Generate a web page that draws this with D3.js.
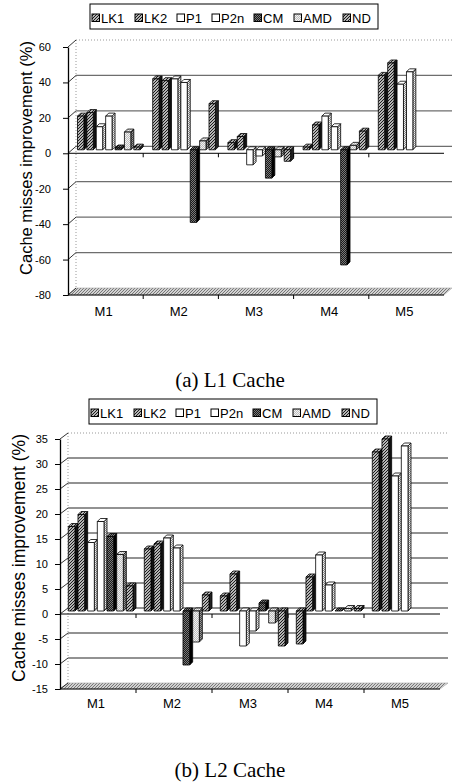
<!DOCTYPE html>
<html>
<head>
<meta charset="utf-8">
<style>
body { margin: 0; background: #fff; }
svg { display: block; font-family: "Liberation Sans", Arial, sans-serif; }
</style>
</head>
<body>
<svg id="chart" width="454" height="782"></svg>
<script src="https://cdn.jsdelivr.net/npm/d3@7/dist/d3.min.js"></script>
<script>
var categories = ["M1", "M2", "M3", "M4", "M5"];
var seriesNames = ["LK1", "LK2", "P1", "P2n", "CM", "AMD", "ND"];

// (a) L1 cache, one array per series, M1..M5 (null = no bar)
var l1LK1 = [19, 40, 4, 1.5, 42];
var l1LK2 = [21, 39, 7.5, 14, 49];
var l1P1 = [13, 40, -8.5, 19, 37];
var l1P2n = [19, 38, -3.5, 13, 44];
var l1CM = [1, -41, -16, -65, null];
var l1AMD = [10, 5, -4, 2.5, null];
var l1ND = [1.5, 26, -6.5, 10.5, null];
var l1Ticks = [-80, -60, -40, -20, 0, 20, 40, 60];

// (b) L2 cache
var l2LK1 = [16.9, 12.4, 3, -6.6, 31.8];
var l2LK2 = [19.3, 13.4, 7.4, 6.8, 34.4];
var l2P1 = [13.7, 14.6, -7, 11.2, 27];
var l2P2n = [17.9, 12.6, -4, 5.2, 33];
var l2CM = [14.9, -10.8, 1.6, 0, null];
var l2AMD = [11.3, -6.2, -2.4, 0.5, null];
var l2ND = [5, 3.2, -7, 0.5, null];
var l2Ticks = [-15, -10, -5, 0, 5, 10, 15, 20, 25, 30, 35];

var svg = d3.select("#chart");
var defs = svg.append("defs");

// fill patterns, roughly like the old Excel print patterns
function hatch(id, bg, fg) {
    var p = defs.append("pattern").attr("id", id)
        .attr("patternUnits", "userSpaceOnUse").attr("width", 3).attr("height", 3);
    p.append("rect").attr("width", 3).attr("height", 3).attr("fill", bg);
    p.append("path").attr("d", "M-1,1 L1,-1 M0,3 L3,0 M2,4 L4,2")
        .attr("stroke", fg).attr("stroke-width", 1);
}
function dots(id, a, b) {
    var p = defs.append("pattern").attr("id", id)
        .attr("patternUnits", "userSpaceOnUse").attr("width", 2).attr("height", 2);
    p.append("rect").attr("width", 2).attr("height", 2).attr("fill", a);
    p.append("rect").attr("width", 1).attr("height", 1).attr("fill", b);
    p.append("rect").attr("x", 1).attr("y", 1).attr("width", 1).attr("height", 1).attr("fill", b);
}
hatch("hatch", "#b4b4b4", "#1c1c1c");
hatch("floor", "#d2d2d2", "#777");
dots("cm", "#1a1a1a", "#7a7a7a");
dots("amd", "#bdbdbd", "#f2f2f2");
dots("amdSide", "#444", "#9a9a9a");
dots("whiteSide", "#8a8a8a", "#f0f0f0");

var fronts = {LK1: "url(#hatch)", LK2: "url(#hatch)", P1: "#fff", P2n: "#fff",
    CM: "url(#cm)", AMD: "url(#amd)", ND: "url(#hatch)"};
var sides = {LK1: "#111", LK2: "#111", P1: "url(#whiteSide)", P2n: "url(#whiteSide)",
    CM: "#000", AMD: "url(#amdSide)", ND: "#222"};

var legendOffsets = [2, 45, 87, 122, 164, 204, 253];

function drawChart(cfg) {
    var g = svg.append("g");
    var dx = 8, dy = cfg.dy, d = 3;
    var ymin = cfg.ticks[0], ymax = cfg.ticks[cfg.ticks.length - 1];

    var y = d3.scaleLinear().domain([ymin, ymax]).range([cfg.yBottom, cfg.yTop]);
    var x = d3.scaleBand().domain(categories).range([cfg.x0, cfg.x1]);
    var xs = d3.scaleBand().domain(seriesNames).range([cfg.off, x.bandwidth()]);

    // legend
    var lg = g.append("g");
    lg.append("rect").attr("x", cfg.legX).attr("y", cfg.legY)
        .attr("width", 288).attr("height", 25)
        .attr("fill", "#fff").attr("stroke", "#000").attr("stroke-width", 1);
    seriesNames.forEach(function(s, i) {
        var lx = cfg.legX + legendOffsets[i];
        lg.append("rect").attr("x", lx).attr("y", cfg.legY + 10)
            .attr("width", 7.5).attr("height", 7.5)
            .attr("fill", fronts[s]).attr("stroke", "#000").attr("stroke-width", 1);
        lg.append("text").attr("x", lx + 9).attr("y", cfg.legY + 19)
            .attr("font-size", "13px").text(s);
    });

    // back wall
    cfg.ticks.forEach(function(t) {
        if (t === ymin) return;
        g.append("line")
            .attr("x1", cfg.x0 + dx).attr("x2", cfg.x1 + dx)
            .attr("y1", y(t) - dy).attr("y2", y(t) - dy)
            .attr("stroke", t === ymax ? "#999" : "#6e6e6e")
            .attr("stroke-width", t === ymax ? 1 : 1.3)
            .attr("stroke-dasharray", t === ymax ? "1,2" : null);
    });
    g.append("line")
        .attr("x1", cfg.x0 + dx).attr("x2", cfg.x0 + dx)
        .attr("y1", y(ymax) - dy).attr("y2", y(ymin) - dy)
        .attr("stroke", "#999").attr("stroke-dasharray", "1,2");

    // floor
    g.append("path")
        .attr("d", "M" + cfg.x0 + "," + y(ymin) + "L" + (cfg.x0 + dx) + "," + (y(ymin) - dy) +
            "L" + (cfg.x1 + dx) + "," + (y(ymin) - dy) + "L" + cfg.x1 + "," + y(ymin) + "Z")
        .attr("fill", "url(#floor)").attr("stroke", "#aaa").attr("stroke-width", 0.6);

    // diagonal ticks between axis and wall
    cfg.ticks.forEach(function(t) {
        g.append("line")
            .attr("x1", cfg.x0).attr("y1", y(t))
            .attr("x2", cfg.x0 + dx).attr("y2", y(t) - dy)
            .attr("stroke", "#000").attr("stroke-width", 0.8);
    });

    // value axis
    var yAxis = d3.axisLeft(y).tickValues(cfg.ticks).tickSize(5).tickSizeOuter(0)
        .tickPadding(cfg.tickPad).tickFormat(d3.format("d"));
    var ya = g.append("g").attr("transform", "translate(" + cfg.x0 + ",0)").call(yAxis);
    ya.select(".domain").attr("stroke", "#000").attr("stroke-width", 1.3);
    ya.attr("font-family", null);
    ya.selectAll("text").attr("font-size", "11px")
        .text(function(t) { return String(t); });

    // category lines at 0 and at the floor
    [0, ymin].forEach(function(v) {
        g.append("line").attr("x1", cfg.x0).attr("x2", cfg.x1)
            .attr("y1", y(v)).attr("y2", y(v))
            .attr("stroke", "#000").attr("stroke-width", v === 0 ? 1 : 1.2);
        categories.slice(1).forEach(function(c) {
            g.append("line").attr("x1", x(c)).attr("x2", x(c))
                .attr("y1", y(v)).attr("y2", y(v) + 4)
                .attr("stroke", "#000");
        });
    });

    // bars with a small 3-D side and top
    var base = y(0) - dy / 2;
    var w = xs.bandwidth() - d;
    var bars = g.append("g").attr("stroke", "#000").attr("stroke-width", 0.8)
        .attr("stroke-linejoin", "round");
    categories.forEach(function(c, j) {
        seriesNames.forEach(function(s, i) {
            var v = cfg.values[i][j];
            if (v === null) return;
            var bx = x(c) + xs(s);
            var yv = y(v) - dy / 2;
            var top = Math.min(yv, base), bot = Math.max(yv, base);
            bars.append("path")
                .attr("d", "M" + (bx + w) + "," + top + "L" + (bx + w + d) + "," + (top - d) +
                    "L" + (bx + w + d) + "," + (bot - d) + "L" + (bx + w) + "," + bot + "Z")
                .attr("fill", sides[s]);
            bars.append("path")
                .attr("d", "M" + bx + "," + top + "L" + (bx + d) + "," + (top - d) +
                    "L" + (bx + w + d) + "," + (top - d) + "L" + (bx + w) + "," + top + "Z")
                .attr("fill", fronts[s]);
            bars.append("rect")
                .attr("x", bx).attr("y", top)
                .attr("width", w).attr("height", bot - top)
                .attr("fill", fronts[s]);
        });
    });

    // category labels
    categories.forEach(function(c) {
        g.append("text").attr("x", x(c) + x.bandwidth() / 2 - 2).attr("y", cfg.labelY)
            .attr("text-anchor", "middle").attr("font-size", "13px").text(c);
    });

    // value axis title
    g.append("text")
        .attr("transform", "translate(" + cfg.titleX + "," + cfg.titleY + ") rotate(-90)")
        .attr("text-anchor", "middle").attr("font-size", cfg.titleSize + "px")
        .text("Cache misses improvement (%)");

    // caption
    g.append("text").attr("x", 230).attr("y", cfg.captionY)
        .attr("text-anchor", "middle")
        .attr("font-family", "'Liberation Serif', 'Times New Roman', serif")
        .attr("font-size", "21px").text(cfg.caption);
}

drawChart({
    values: [l1LK1, l1LK2, l1P1, l1P2n, l1CM, l1AMD, l1ND],
    ticks: l1Ticks,
    x0: 68, x1: 444, yTop: 47, yBottom: 295, dy: 7, off: 9.5, tickPad: 12,
    labelY: 316, titleX: 32, titleY: 158, titleSize: 16.5,
    legX: 90, legY: 4, captionY: 387, caption: "(a) L1 Cache"
});

drawChart({
    values: [l2LK1, l2LK2, l2P1, l2P2n, l2CM, l2AMD, l2ND],
    ticks: l2Ticks,
    x0: 60, x1: 440, yTop: 439, yBottom: 689, dy: 6, off: 8.3, tickPad: 7,
    labelY: 708, titleX: 25, titleY: 558, titleSize: 17.5,
    legX: 89, legY: 399, captionY: 777, caption: "(b) L2 Cache"
});
</script>
</body>
</html>
